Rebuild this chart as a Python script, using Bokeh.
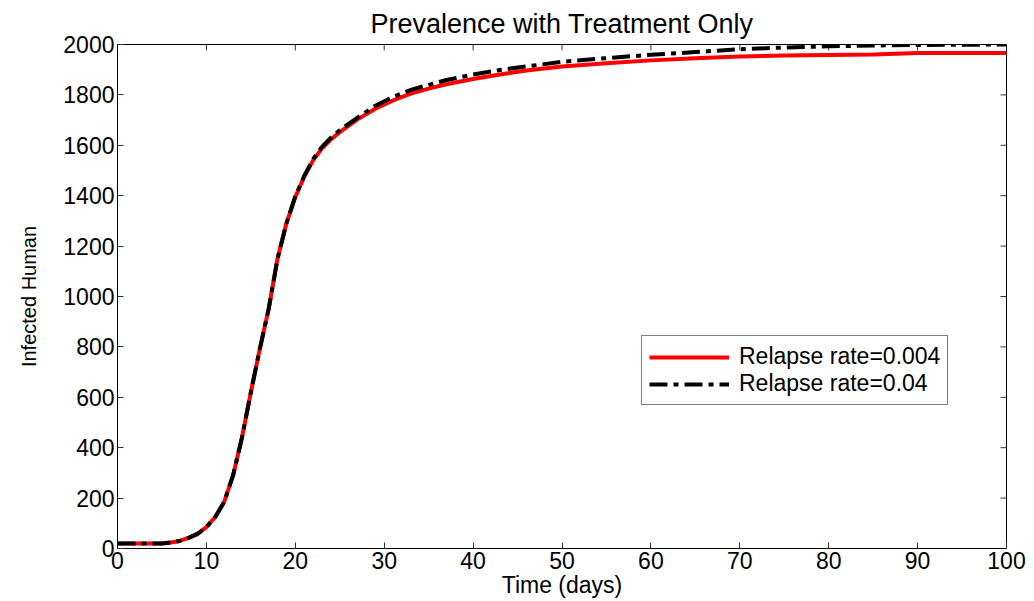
import math
from bokeh.plotting import figure
from bokeh.models import Range1d, FixedTicker, Legend, LegendItem
from bokeh.embed import file_html
from bokeh.resources import INLINE

# ---- data ----
t = [0, 2, 4, 5, 6, 7, 8, 9, 10, 11, 12, 13, 14, 15, 16, 17, 18, 19, 20, 21, 22, 23, 24, 25,
     27, 29, 31, 33, 35, 37, 40, 43, 46, 50, 55, 60, 65, 70, 75, 80, 85, 90, 95, 100]
relapse_0004 = [20, 20, 20, 20, 24, 30, 42, 58, 85, 125, 185, 290, 440, 620, 790, 950, 1150, 1290,
                1395, 1475, 1540, 1588, 1623, 1652, 1703, 1745, 1778, 1805, 1825, 1842, 1863, 1881,
                1897, 1913, 1926, 1937, 1945, 1952, 1956, 1958, 1960, 1966, 1966, 1966]
relapse_004 = [20, 20, 20, 20, 24, 30, 42, 58, 85, 125, 185, 290, 440, 620, 790, 950, 1150, 1290,
               1397, 1478, 1545, 1594, 1630, 1660, 1710, 1757, 1792, 1820, 1840, 1859, 1881, 1899,
               1913, 1931, 1946, 1959, 1970, 1981, 1988, 1993, 1996, 1998, 1999, 2000]
labels = ["Relapse rate=0.004", "Relapse rate=0.04"]
title_text = "Prevalence with Treatment Only"
x_label = "Time (days)"
y_label = "Infected Human"
x_ticks = list(range(0, 101, 10))
y_ticks = list(range(0, 2001, 200))
x_max = 100
y_max = 2000

FONT = "Liberation Sans"

p = figure(width=1030, height=600, output_backend="svg", toolbar_location=None,
           x_range=Range1d(0, x_max), y_range=Range1d(0, y_max),
           min_border_left=117, min_border_right=24, min_border_top=44, min_border_bottom=50,
           background_fill_color="white", border_fill_color="white")

p.title.text = title_text
p.title.align = "center"
p.title.text_font = FONT
p.title.text_font_size = "27px"
p.title.text_font_style = "normal"
p.title.text_color = "black"
p.title.offset = 0
p.title.standoff = 12

p.xgrid.visible = False
p.ygrid.visible = False
p.outline_line_color = "black"
p.outline_line_width = 1
p.outline_line_alpha = 1

def style_axis(ax, ticks):
    ax.ticker = FixedTicker(ticks=ticks)
    ax.minor_tick_line_color = None
    ax.major_tick_in = 6
    ax.major_tick_out = 0
    ax.major_tick_line_color = "#333333"
    ax.axis_line_color = "black"
    ax.axis_line_width = 1
    ax.major_label_text_font = FONT
    ax.major_label_text_font_size = "23px"
    ax.major_label_text_color = "black"
    ax.major_label_standoff = 3

xa = p.xaxis[0]
ya = p.yaxis[0]
style_axis(xa, x_ticks)
style_axis(ya, y_ticks)
xa.axis_label = x_label
xa.axis_label_text_font = FONT
xa.axis_label_text_font_size = "23px"
xa.axis_label_text_font_style = "normal"
xa.axis_label_text_color = "black"
xa.axis_label_standoff = 0
ya.axis_label = y_label
ya.axis_label_text_font = FONT
ya.axis_label_text_font_size = "20px"
ya.axis_label_text_font_style = "normal"
ya.axis_label_text_color = "black"
ya.axis_label_standoff = 20

# inward ticks on the top and right edges of the box (clipped to the frame)
p.scatter(x=x_ticks, y=[y_max] * len(x_ticks), marker="dash", angle=math.pi / 2, size=12,
          line_color="#333333", line_width=1)
p.scatter(x=[x_max] * len(y_ticks), y=y_ticks, marker="dash", size=12,
          line_color="#333333", line_width=1)

r1 = p.line(t, relapse_0004, line_color="#ff0000", line_width=4)
r2 = p.line(t, relapse_004, line_color="black", line_width=4, line_dash="18 6 5 6")

legend = Legend(items=[LegendItem(label=labels[0], renderers=[r1]),
                       LegendItem(label=labels[1], renderers=[r2])],
                location=(524, 143))
legend.label_text_font = FONT
legend.label_text_font_size = "23px"
legend.label_text_color = "black"
legend.label_standoff = 10
legend.glyph_width = 80
legend.glyph_height = 20
legend.label_height = 20
legend.spacing = 0
legend.padding = 7
legend.margin = 0
legend.border_line_color = "black"
legend.border_line_width = 1
legend.background_fill_color = "white"
legend.background_fill_alpha = 1
p.add_layout(legend, "center")

open("out.html", "w").write(file_html(p, INLINE))
